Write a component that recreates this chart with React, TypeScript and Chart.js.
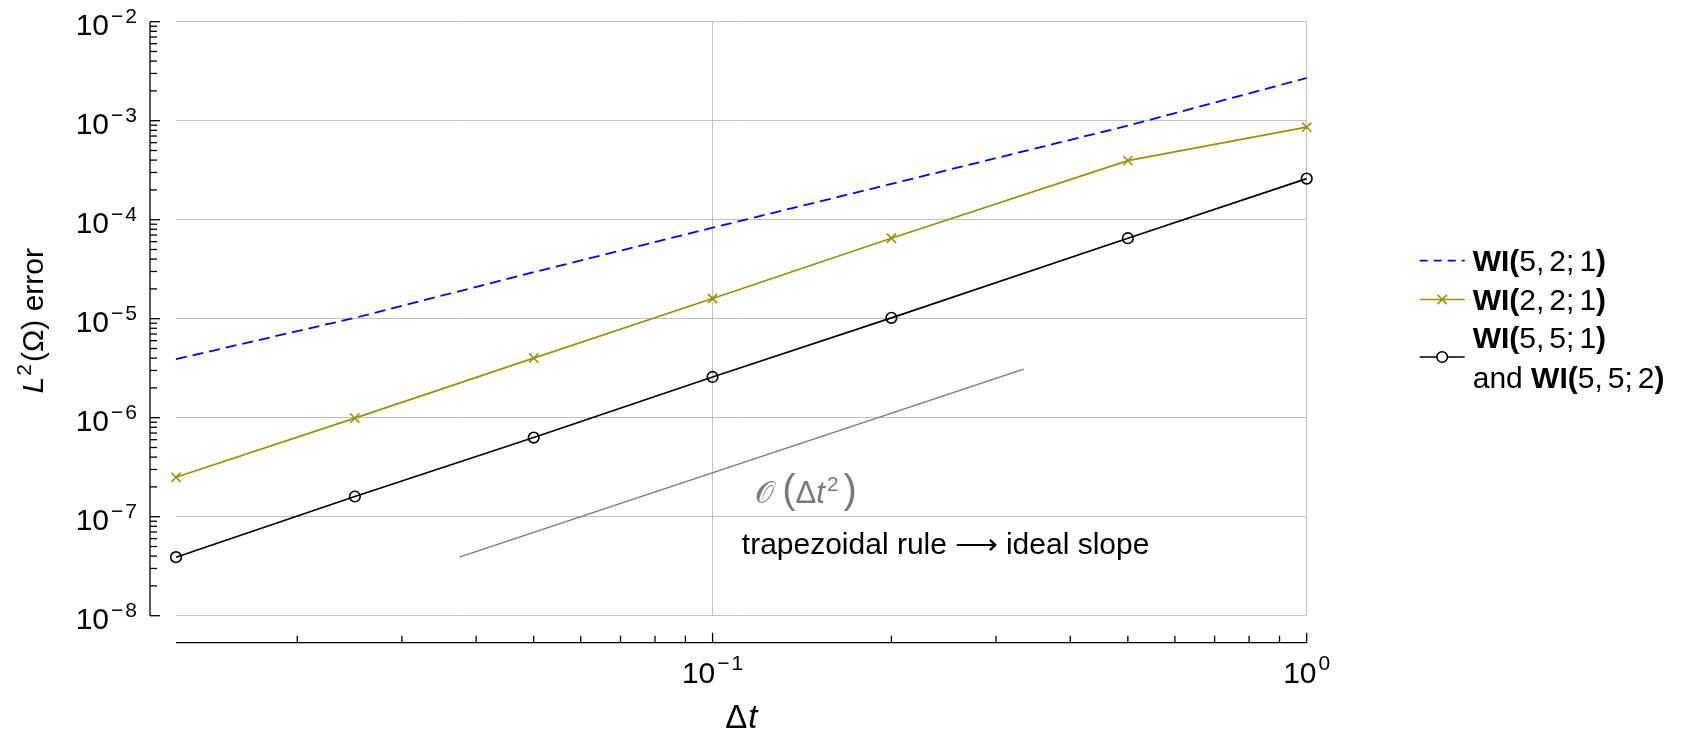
import React, { useEffect, useRef } from 'react';
import { Chart, registerables } from 'chart.js';

Chart.register(...registerables);

// ---------- data ----------
const dtValues = [0.0125, 0.025, 0.05, 0.1, 0.2, 0.5, 1];
const errWI521 = [3.9e-6, 1.02e-5, 2.95e-5, 8.3e-5, 2.3e-4, 8.9e-4, 2.7e-3];
const errWI221 = [2.5e-7, 9.9e-7, 4.0e-6, 1.6e-5, 6.5e-5, 3.95e-4, 8.6e-4];
const errWI551 = [3.9e-8, 1.6e-7, 6.3e-7, 2.58e-6, 1.02e-5, 6.5e-5, 2.6e-4];
const slopeDt = [0.0375, 0.334];
const slopeErr = [3.9e-8, 3.1e-6];

const xRange = [0.0125, 1];
const yRange = [1e-8, 1e-2];
const xTickValues = [0.1, 1];
const xTickExps = ['−1', '0'];
const yTickValues = [1e-2, 1e-3, 1e-4, 1e-5, 1e-6, 1e-7, 1e-8];
const yTickExps = ['−2', '−3', '−4', '−5', '−6', '−7', '−8'];

const legendArgs = [['5, 2; 1'], ['2, 2; 1'], ['5, 5; 1', '5, 5; 2']];
const annotOrderAt = { x: 0.118, y: 1.37e-7 };
const annotTrapAt = { x: 0.112, y: 4.2e-8 };
const annotTrapLeft = 'trapezoidal rule';
const annotTrapArrow = '⟶';
const annotTrapRight = 'ideal slope';

// ---------- styles ----------
const BLUE = '#0000ff';
const OLIVE = '#9a9200';
const BLACK = '#000000';
const GRAY = '#7a7a7a';
const GRID = '#c2c2c2';
const FF = '"Liberation Sans", Arimo, Helvetica, Arial, sans-serif';
const reg = (s: number) => `${s}px ${FF}`;
const ital = (s: number) => `italic ${s}px ${FF}`;
const bold = (s: number) => `bold ${s}px ${FF}`;
const MAIN = 30;
const SUP = 21;
const SUPDY = -12.5;

type Run = { t: string; f: string; dy?: number; dx?: number };

function runsWidth(ctx: CanvasRenderingContext2D, runs: Run[]) {
  let w = 0;
  for (const r of runs) {
    ctx.font = r.f;
    w += ctx.measureText(r.t).width + (r.dx || 0);
  }
  return w;
}

function drawRuns(
  ctx: CanvasRenderingContext2D,
  runs: Run[],
  x: number,
  y: number,
  align: 'left' | 'center' | 'right',
  color: string
) {
  const w = runsWidth(ctx, runs);
  let cx = align === 'left' ? x : align === 'center' ? x - w / 2 : x - w;
  ctx.textAlign = 'left';
  ctx.textBaseline = 'alphabetic';
  ctx.fillStyle = color;
  for (const r of runs) {
    ctx.font = r.f;
    cx += r.dx || 0;
    ctx.fillText(r.t, cx, y + (r.dy || 0));
    cx += ctx.measureText(r.t).width;
  }
}

function powRuns(exp: string): Run[] {
  const runs: Run[] = [{ t: '10', f: reg(MAIN) }];
  if (exp.startsWith('−')) {
    runs.push({ t: '−', f: reg(SUP), dy: SUPDY, dx: 2 });
    runs.push({ t: exp.slice(1), f: reg(SUP), dy: SUPDY, dx: 2 });
  } else {
    runs.push({ t: exp, f: reg(SUP), dy: SUPDY, dx: 2 });
  }
  return runs;
}

function wiRuns(args: string, prefix?: string): Run[] {
  const runs: Run[] = [];
  if (prefix) runs.push({ t: prefix, f: reg(MAIN) });
  runs.push({ t: 'WI(', f: bold(MAIN) });
  args.split(' ').forEach((tok, i) => {
    runs.push({ t: tok, f: reg(MAIN), dx: i === 0 ? 0 : 5 });
  });
  runs.push({ t: ')', f: bold(MAIN) });
  return runs;
}

const isPow10 = (v: number) => {
  if (!(v > 0)) return false;
  const l = Math.log10(v);
  return Math.abs(l - Math.round(l)) < 1e-6;
};

const decorPlugin = {
  id: 'decor',
  afterDraw(chart: any) {
    const { ctx, chartArea: a, scales } = chart;
    const xs = scales.x;
    const ys = scales.y;
    const axX = a.left - 26;
    const axY = a.bottom + 27;
    ctx.save();
    ctx.strokeStyle = BLACK;
    ctx.lineWidth = 1.3;
    ctx.setLineDash([]);
    const seg = (x0: number, y0: number, x1: number, y1: number) => {
      ctx.beginPath();
      ctx.moveTo(x0, y0);
      ctx.lineTo(x1, y1);
      ctx.stroke();
    };
    // y axis (detached)
    const yTop = ys.getPixelForValue(yRange[1]);
    const yBot = ys.getPixelForValue(yRange[0]);
    seg(axX, yTop, axX, yBot);
    for (let e = -8; e <= -2; e++) {
      for (let k = 1; k <= 9; k++) {
        const v = k * Math.pow(10, e);
        if (v < yRange[0] * 0.999 || v > yRange[1] * 1.001) continue;
        const p = ys.getPixelForValue(v);
        seg(axX, p, axX + (k === 1 ? 10 : 7), p);
      }
    }
    // x axis (detached)
    seg(a.left, axY, xs.getPixelForValue(xRange[1]), axY);
    for (let e = -2; e <= 0; e++) {
      for (let k = 1; k <= 9; k++) {
        const v = k * Math.pow(10, e);
        if (v < xRange[0] * 0.999 || v > xRange[1] * 1.001) continue;
        const p = xs.getPixelForValue(v);
        seg(p, axY, p, axY - (k === 1 ? 10 : 7));
      }
    }
    // tick labels
    yTickValues.forEach((v, i) => {
      const p = ys.getPixelForValue(v);
      drawRuns(ctx, powRuns(yTickExps[i]), axX - 13, p + 13.5, 'right', BLACK);
    });
    xTickValues.forEach((v, i) => {
      const p = xs.getPixelForValue(v);
      drawRuns(ctx, powRuns(xTickExps[i]), p, axY + 40, 'center', BLACK);
    });
    // axis titles
    drawRuns(
      ctx,
      [
        { t: 'Δ', f: reg(33) },
        { t: 't', f: ital(33), dx: 1 },
      ],
      (a.left + a.right) / 2,
      axY + 85,
      'center',
      BLACK
    );
    ctx.save();
    ctx.translate(43, (a.top + a.bottom) / 2 + 2);
    ctx.rotate(-Math.PI / 2);
    drawRuns(
      ctx,
      [
        { t: 'L', f: ital(MAIN) },
        { t: '2', f: reg(SUP), dy: SUPDY, dx: 1 },
        { t: '(Ω) error', f: reg(MAIN), dx: 2 },
      ],
      0,
      0,
      'center',
      BLACK
    );
    ctx.restore();
    // annotations
    const ox = xs.getPixelForValue(annotOrderAt.x);
    const oy = ys.getPixelForValue(annotOrderAt.y);
    drawRuns(
      ctx,
      [
        { t: '\u{1D4AA}', f: reg(MAIN) },
        { t: '(', f: reg(40), dx: 8 },
        { t: 'Δ', f: reg(31), dx: 0 },
        { t: 't', f: ital(31) },
        { t: '2', f: reg(SUP), dy: SUPDY, dx: 2 },
        { t: ')', f: reg(40), dx: 5 },
      ],
      ox,
      oy,
      'left',
      GRAY
    );
    drawRuns(
      ctx,
      [
        { t: annotTrapLeft, f: reg(MAIN) },
        { t: annotTrapArrow, f: reg(MAIN), dx: 8 },
        { t: annotTrapRight, f: reg(MAIN), dx: 8 },
      ],
      xs.getPixelForValue(annotTrapAt.x),
      ys.getPixelForValue(annotTrapAt.y),
      'left',
      BLACK
    );
    // legend
    const lx0 = a.right + 113;
    const lx1 = a.right + 158;
    const lxm = (lx0 + lx1) / 2;
    const tx = a.right + 166;
    const rowY = [260.7, 299.5, 357];
    // row 1 (dashed blue)
    ctx.lineWidth = 1.7;
    ctx.strokeStyle = BLUE;
    ctx.setLineDash([8, 6]);
    seg(lx0, rowY[0], lx1, rowY[0]);
    ctx.setLineDash([]);
    drawRuns(ctx, wiRuns(legendArgs[0][0]), tx, rowY[0] + 10.5, 'left', BLACK);
    // row 2 (olive, cross)
    ctx.lineWidth = 1.6;
    ctx.strokeStyle = OLIVE;
    seg(lx0, rowY[1], lx1, rowY[1]);
    const c = 4.6;
    seg(lxm - c, rowY[1] - c, lxm + c, rowY[1] + c);
    seg(lxm - c, rowY[1] + c, lxm + c, rowY[1] - c);
    drawRuns(ctx, wiRuns(legendArgs[1][0]), tx, rowY[1] + 10.5, 'left', BLACK);
    // row 3 (black, circle)
    ctx.strokeStyle = BLACK;
    seg(lx0, rowY[2], lx1, rowY[2]);
    ctx.beginPath();
    ctx.arc(lxm, rowY[2], 5.3, 0, Math.PI * 2);
    ctx.fillStyle = '#fff';
    ctx.fill();
    ctx.stroke();
    drawRuns(ctx, wiRuns(legendArgs[2][0]), tx, rowY[2] - 20 + 10.5, 'left', BLACK);
    drawRuns(ctx, wiRuns(legendArgs[2][1], 'and '), tx, rowY[2] + 20 + 10.5, 'left', BLACK);
    ctx.restore();
  },
};

const toPts = (xs: number[], ys: number[]) => xs.map((x, i) => ({ x, y: ys[i] }));

export default function App() {
  const ref = useRef<HTMLCanvasElement>(null);
  useEffect(() => {
    const canvas = ref.current;
    if (!canvas) return;
    const gridColor = (ctx: any) => (isPow10(ctx.tick && ctx.tick.value) ? GRID : 'rgba(0,0,0,0)');
    const chart = new Chart(canvas, {
      type: 'scatter',
      data: {
        datasets: [
          {
            label: 'WI(5,2;1)',
            data: toPts(dtValues, errWI521),
            showLine: true,
            borderColor: BLUE,
            borderWidth: 1.8,
            borderDash: [11, 6],
            pointRadius: 0,
            clip: false,
          },
          {
            label: 'WI(2,2;1)',
            data: toPts(dtValues, errWI221),
            showLine: true,
            borderColor: OLIVE,
            borderWidth: 1.7,
            pointStyle: 'crossRot',
            pointRadius: 6.5,
            pointBorderColor: OLIVE,
            pointBorderWidth: 1.6,
            pointBackgroundColor: 'rgba(0,0,0,0)',
            clip: false,
          },
          {
            label: 'WI(5,5;1) and WI(5,5;2)',
            data: toPts(dtValues, errWI551),
            showLine: true,
            borderColor: BLACK,
            borderWidth: 1.7,
            pointStyle: 'circle',
            pointRadius: 5.3,
            pointBorderColor: BLACK,
            pointBorderWidth: 1.6,
            pointBackgroundColor: 'rgba(0,0,0,0)',
            clip: false,
          },
          {
            label: 'slope',
            data: toPts(slopeDt, slopeErr),
            showLine: true,
            borderColor: GRAY,
            borderWidth: 1.4,
            pointRadius: 0,
            clip: false,
          },
        ],
      },
      options: {
        responsive: false,
        maintainAspectRatio: false,
        devicePixelRatio: 1,
        animation: false,
        events: [],
        layout: { padding: { left: 176, top: 21.7, right: 382.3, bottom: 116.3 } },
        plugins: {
          legend: { display: false },
          tooltip: { enabled: false },
          title: { display: false },
        },
        scales: {
          x: {
            type: 'logarithmic',
            min: xRange[0],
            max: xRange[1],
            border: { display: false },
            grid: { color: gridColor, lineWidth: 1, drawTicks: false },
            ticks: { display: false },
          },
          y: {
            type: 'logarithmic',
            min: yRange[0],
            max: yRange[1],
            border: { display: false },
            grid: { color: gridColor, lineWidth: 1, drawTicks: false },
            ticks: { display: false },
          },
        },
      },
      plugins: [decorPlugin],
    } as any);
    return () => chart.destroy();
  }, []);
  return (
    <div style={{ position: 'fixed', left: 0, top: 0, width: 1689, height: 732, background: '#fff' }}>
      <canvas ref={ref} width={1689} height={732} style={{ display: 'block', width: 1689, height: 732 }} />
    </div>
  );
}
